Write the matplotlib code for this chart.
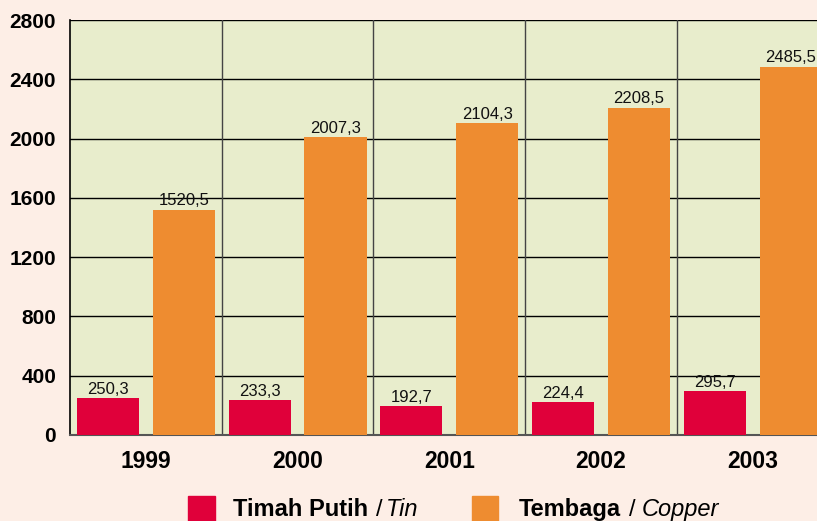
import matplotlib
matplotlib.use('Agg')
import matplotlib.pyplot as plt
import numpy as np

plt.rcParams['font.family'] = ['Liberation Sans', 'DejaVu Sans']

years = ['1999', '2000', '2001', '2002', '2003']
tin = [250.3, 233.3, 192.7, 224.4, 295.7]
copper = [1520.5, 2007.3, 2104.3, 2208.5, 2485.5]
yticks = [0, 400, 800, 1200, 1600, 2000, 2400, 2800]

bg = '#fdeee6'
plot_bg = '#e8edcc'
red = '#e0003a'
orange = '#ee8c30'


def fmt(v):
    return ('%.1f' % v).replace('.', ',')


fig = plt.figure(figsize=(8.17, 5.21), dpi=100, facecolor=bg)
ax = fig.add_axes([70 / 817, 86 / 521, 747 / 817, 415 / 521])
ax.set_facecolor(plot_bg)

x = np.arange(len(years))
w = 0.41
b1 = ax.bar(x - 0.25, tin, w, color=red, zorder=3)
b2 = ax.bar(x + 0.25, copper, w, color=orange, zorder=3)

for bars, vals in ((b1, tin), (b2, copper)):
    for r, v in zip(bars, vals):
        ax.text(r.get_x() + r.get_width() / 2, v + 8, fmt(v), ha='center',
                va='bottom', fontsize=12, color='#111111', zorder=4)

ax.set_ylim(0, 2800)
ax.set_xlim(-0.5, 4.424)
ax.set_yticks(yticks)
ax.set_yticklabels([str(t) for t in yticks], fontsize=15, fontweight='bold')
ax.set_xticks(x)
ax.set_xticklabels(years, fontsize=16.5, fontweight='bold')
ax.tick_params(axis='both', length=0)
ax.tick_params(axis='y', pad=10)
ax.tick_params(axis='x', pad=11)

for t in yticks[1:]:
    ax.axhline(t, color='black', lw=1, zorder=1)
for i in range(1, len(years)):
    ax.axvline(i - 0.5, color='#444444', lw=1, zorder=1)

for s in ('top', 'right'):
    ax.spines[s].set_visible(False)
ax.spines['left'].set_color('black')
ax.spines['left'].set_linewidth(1.2)
ax.spines['bottom'].set_color('#555555')
ax.spines['bottom'].set_linewidth(1.5)

# legend drawn in figure coordinates
fig.patches.append(plt.Rectangle((188 / 817, 0), 27 / 817, 25 / 521,
                                 transform=fig.transFigure, color=red))
fig.patches.append(plt.Rectangle((472 / 817, 0), 26 / 817, 25 / 521,
                                 transform=fig.transFigure, color=orange))
base = 5 / 521
fs = 17
fig.text(233 / 817, base, 'Timah Putih', fontsize=fs, fontweight='bold',
         va='baseline')
fig.text(376 / 817, base, '/', fontsize=fs, va='baseline')
fig.text(386 / 817, base, 'Tin', fontsize=fs, style='italic', va='baseline')
fig.text(519 / 817, base, 'Tembaga', fontsize=fs, fontweight='bold',
         va='baseline')
fig.text(629 / 817, base, '/', fontsize=fs, va='baseline')
fig.text(642 / 817, base, 'Copper', fontsize=fs, style='italic',
         va='baseline')

fig.savefig('out.png', dpi=100, facecolor=bg)
